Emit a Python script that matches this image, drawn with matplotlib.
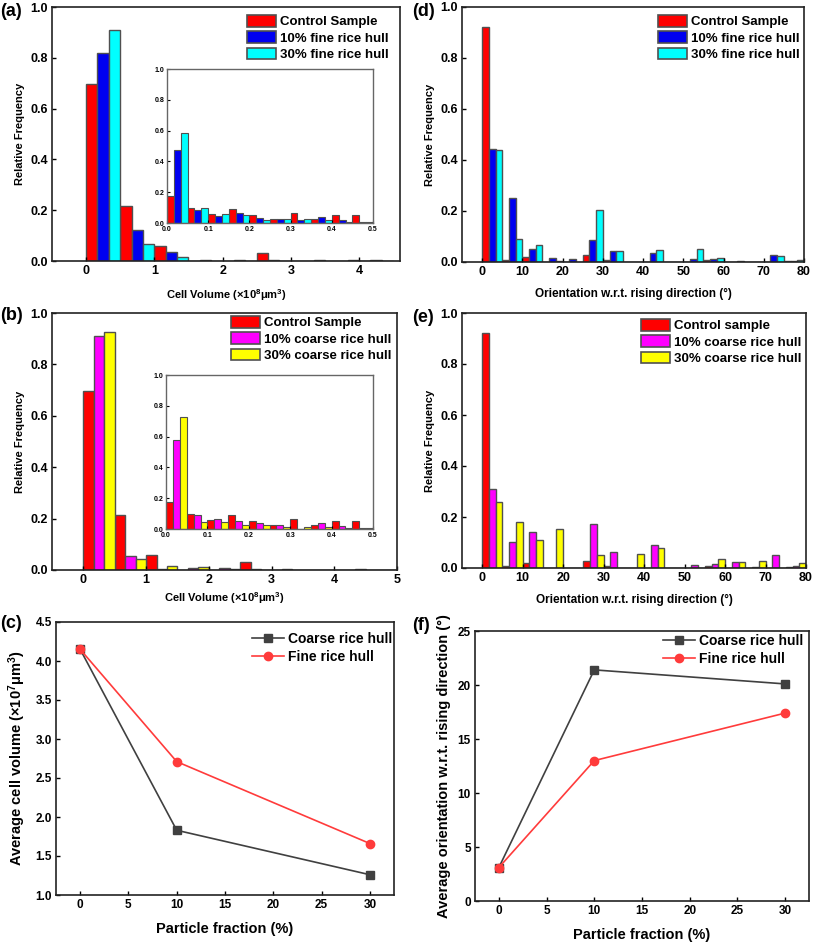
import matplotlib
matplotlib.use("Agg")
import matplotlib.pyplot as plt
from matplotlib.patches import Patch
import numpy as np

plt.rcParams['font.family'] = ['Liberation Sans', 'DejaVu Sans']
plt.rcParams['font.weight'] = 'bold'
plt.rcParams['axes.labelweight'] = 'bold'
plt.rcParams['mathtext.default'] = 'regular'

# ---------------- data ----------------
vol_bins = [0.0, 0.5, 1.0, 1.5, 2.0, 2.5, 3.0, 3.5, 4.0, 4.5]
ctrl_vol = [0.696, 0.215, 0.058, 0, 0, 0.030, 0, 0, 0, 0]
fine10_vol = [0.820, 0.123, 0.034, 0.003, 0.003, 0.003, 0, 0, 0.004, 0]
fine30_vol = [0.908, 0.066, 0.016, 0, 0, 0, 0.002, 0.002, 0, 0]
coarse10_vol = [0.911, 0.054, 0.005, 0.008, 0.008, 0.003, 0.003, 0, 0, 0]
coarse30_vol = [0.926, 0.041, 0.014, 0.010, 0.003, 0, 0, 0, 0.002, 0]

inset_bins = [0.0, 0.05, 0.10, 0.15, 0.20, 0.25, 0.30, 0.35, 0.40, 0.45]
ctrl_in = [0.176, 0.098, 0.059, 0.088, 0.050, 0.028, 0.068, 0.029, 0.050, 0.050]
fine10_in = [0.473, 0.087, 0.046, 0.063, 0.035, 0.028, 0.022, 0.039, 0.017, 0.006]
fine30_in = [0.586, 0.100, 0.061, 0.050, 0.017, 0.024, 0.024, 0.022, 0.006, 0.006]
coarse10_in = [0.576, 0.089, 0.067, 0.054, 0.039, 0.024, 0.0, 0.039, 0.020, 0.004]
coarse30_in = [0.730, 0.046, 0.048, 0.028, 0.024, 0.013, 0.013, 0.013, 0.008, 0.004]

ori_bins = [0, 5, 10, 15, 20, 25, 30, 35, 40, 45, 50, 55, 60, 65, 70, 75]
ctrl_ori = [0.922, 0.009, 0.019, 0, 0, 0.028, 0.008, 0, 0, 0, 0, 0.008, 0, 0, 0, 0.003]
fine10_ori = [0.444, 0.250, 0.052, 0.016, 0.012, 0.085, 0.045, 0, 0.035, 0, 0.010, 0.010, 0, 0, 0.028, 0.003]
fine30_ori = [0.438, 0.090, 0.066, 0.003, 0, 0.205, 0.042, 0, 0.046, 0, 0.052, 0.015, 0.005, 0, 0.025, 0.006]
coarse10_ori = [0.309, 0.102, 0.140, 0, 0, 0.172, 0.061, 0, 0.091, 0, 0.013, 0.016, 0.022, 0.003, 0.050, 0.008]
coarse30_ori = [0.258, 0.179, 0.108, 0.153, 0, 0.052, 0, 0.053, 0.080, 0, 0, 0.036, 0.022, 0.028, 0, 0.020]

fraction = [0, 10, 30]
coarse_vol_avg = [4.15, 1.83, 1.26]
fine_vol_avg = [4.15, 2.71, 1.66]
coarse_ori_avg = [3.1, 21.4, 20.1]
fine_ori_avg = [3.1, 13.0, 17.4]

fine_labels = ['Control Sample', '10% fine rice hull', '30% fine rice hull']
coarse_labels = ['Control Sample', '10% coarse rice hull', '30% coarse rice hull']
coarse_labels_e = ['Control sample', '10% coarse rice hull', '30% coarse rice hull']

RED, BLUE, CYAN, MAG, YEL = '#FF0000', '#0000F0', '#00FFFF', '#FF00FF', '#FFFF00'
EDGE = '#505050'

W, H = 813, 942
fig = plt.figure(figsize=(W / 100, H / 100), dpi=100)


def add_ax(l, r, t, b):
    return fig.add_axes([l / W, 1 - b / H, (r - l) / W, (b - t) / H])


def style(ax, lw=1.2, size=9):
    for s in ax.spines.values():
        s.set_linewidth(lw)
        s.set_color('#222222')
    ax.tick_params(direction='in', length=3, width=1, labelsize=size, pad=3)
    for lab in ax.get_xticklabels() + ax.get_yticklabels():
        lab.set_fontweight('bold')


def grouped(ax, bins, series, colors, lw=1.0):
    width = bins[1] - bins[0]
    w = width / 3
    for k, (vals, c) in enumerate(zip(series, colors)):
        ax.bar(np.array(bins) + k * w, vals, width=w, align='edge',
               color=c, edgecolor=EDGE, linewidth=lw)


def legend_patches(ax, labels, colors, anchor):
    handles = [Patch(facecolor=c, edgecolor=EDGE, linewidth=1.2) for c in colors]
    ax.legend(handles, labels, loc='upper left', bbox_to_anchor=(anchor[0] / W, 1 - anchor[1] / H),
              bbox_transform=fig.transFigure, frameon=False,
              handlelength=2.2, handleheight=1.0, handletextpad=0.3,
              labelspacing=0.22, borderpad=0, borderaxespad=0,
              prop={'weight': 'bold', 'size': 9.5})


def inset(l, r, t, b, series, colors):
    ax = add_ax(l, r, t, b)
    grouped(ax, inset_bins, series, colors, lw=0.8)
    ax.set_xlim(0, 0.5)
    ax.set_ylim(0, 1.0)
    ax.set_xticks([0, 0.1, 0.2, 0.3, 0.4, 0.5])
    ax.set_yticks([0, 0.2, 0.4, 0.6, 0.8, 1.0])
    ax.set_xticklabels(['0.0', '0.1', '0.2', '0.3', '0.4', '0.5'])
    ax.set_yticklabels(['0.0', '0.2', '0.4', '0.6', '0.8', '1.0'])
    for s in ax.spines.values():
        s.set_linewidth(1.0)
        s.set_color('#666666')
    ax.tick_params(direction='in', length=2, width=0.8, labelsize=5, pad=2)
    for lab in ax.get_xticklabels() + ax.get_yticklabels():
        lab.set_fontweight('bold')
    return ax


rf_ticks = [0.0, 0.2, 0.4, 0.6, 0.8, 1.0]
rf_labels = ['0.0', '0.2', '0.4', '0.6', '0.8', '1.0']

# ---------- (a) ----------
axa = add_ax(52, 400, 7, 261)
grouped(axa, vol_bins[:9], [ctrl_vol[:9], fine10_vol[:9], fine30_vol[:9]], [RED, BLUE, CYAN])
axa.set_xlim(-0.5, 4.6)
axa.set_ylim(0, 1.0)
axa.set_xticks([0, 1, 2, 3, 4])
axa.set_yticks(rf_ticks)
axa.set_yticklabels(rf_labels)
axa.set_ylabel('Relative Frequency', fontsize=8, labelpad=4)
axa.set_xlabel(r'Cell Volume ($\times$10$^{8}$$\mu$m$^{3}$)', fontsize=8, labelpad=7)
style(axa)
legend_patches(axa, fine_labels, [RED, BLUE, CYAN], (247, 15))
inset(167, 373, 69, 223, [ctrl_in, fine10_in, fine30_in], [RED, BLUE, CYAN])

# ---------- (b) ----------
axb = add_ax(52, 397, 313, 570)
grouped(axb, vol_bins, [ctrl_vol, coarse10_vol, coarse30_vol], [RED, MAG, YEL])
axb.set_xlim(-0.5, 5)
axb.set_ylim(0, 1.0)
axb.set_xticks([0, 1, 2, 3, 4, 5])
axb.set_yticks(rf_ticks)
axb.set_yticklabels(rf_labels)
axb.set_ylabel('Relative Frequency', fontsize=8, labelpad=4)
axb.set_xlabel(r'Cell Volume ($\times$10$^{8}$$\mu$m$^{3}$)', fontsize=8, labelpad=3)
style(axb)
legend_patches(axb, coarse_labels, [RED, MAG, YEL], (231, 316))
inset(166, 373, 375, 529, [ctrl_in, coarse10_in, coarse30_in], [RED, MAG, YEL])

# ---------- (d) ----------
axd = add_ax(462, 804, 7, 262)
grouped(axd, ori_bins, [ctrl_ori, fine10_ori, fine30_ori], [RED, BLUE, CYAN])
axd.set_xlim(-5, 80)
axd.set_ylim(0, 1.0)
axd.set_xticks(range(0, 81, 10))
axd.set_yticks(rf_ticks)
axd.set_yticklabels(rf_labels)
axd.set_ylabel('Relative Frequency', fontsize=8, labelpad=4)
axd.set_xlabel('Orientation w.r.t. rising direction (°)', fontsize=8.5, labelpad=7)
style(axd)
legend_patches(axd, fine_labels, [RED, BLUE, CYAN], (658, 15))

# ---------- (e) ----------
axe = add_ax(462, 806, 313, 568)
grouped(axe, ori_bins, [ctrl_ori, coarse10_ori, coarse30_ori], [RED, MAG, YEL])
axe.set_xlim(-5, 80)
axe.set_ylim(0, 1.0)
axe.set_xticks(range(0, 81, 10))
axe.set_yticks(rf_ticks)
axe.set_yticklabels(rf_labels)
axe.set_ylabel('Relative Frequency', fontsize=8, labelpad=4)
axe.set_xlabel('Orientation w.r.t. rising direction (°)', fontsize=8.5, labelpad=7)
style(axe)
legend_patches(axe, coarse_labels_e, [RED, MAG, YEL], (641, 319))

# ---------- (c) ----------
GRAY = '#404040'
LRED = '#FF3B3B'
axc = add_ax(56, 394, 622, 895)
axc.plot(fraction, coarse_vol_avg, color=GRAY, marker='s', markersize=5.5, linewidth=1.2,
         label='Coarse rice hull')
axc.plot(fraction, fine_vol_avg, color=LRED, marker='o', markersize=6, linewidth=1.2,
         label='Fine rice hull')
axc.set_xlim(-2.5, 32.5)
axc.set_ylim(1.0, 4.5)
axc.set_xticks([0, 5, 10, 15, 20, 25, 30])
axc.set_yticks([1.0, 1.5, 2.0, 2.5, 3.0, 3.5, 4.0, 4.5])
axc.set_yticklabels(['1.0', '1.5', '2.0', '2.5', '3.0', '3.5', '4.0', '4.5'])
axc.set_xlabel('Particle fraction (%)', fontsize=10.5, labelpad=8)
axc.set_ylabel(r'Average cell volume ($\times$10$^{7}$$\mu$m$^{3}$)', fontsize=10.5, labelpad=5)
style(axc, lw=1.2, size=8.5)
axc.legend(loc='upper left', bbox_to_anchor=(252 / W, 1 - 632 / H), bbox_transform=fig.transFigure,
           frameon=False, handlelength=2.3, handletextpad=0.3, labelspacing=0.3,
           borderpad=0, borderaxespad=0, prop={'weight': 'bold', 'size': 10})

# ---------- (f) ----------
axf = add_ax(475, 809, 631, 901)
axf.plot(fraction, coarse_ori_avg, color=GRAY, marker='s', markersize=5.5, linewidth=1.2,
         label='Coarse rice hull')
axf.plot(fraction, fine_ori_avg, color=LRED, marker='o', markersize=6, linewidth=1.2,
         label='Fine rice hull')
axf.set_xlim(-2.5, 32.5)
axf.set_ylim(0, 25)
axf.set_xticks([0, 5, 10, 15, 20, 25, 30])
axf.set_yticks([0, 5, 10, 15, 20, 25])
axf.set_xlabel('Particle fraction (%)', fontsize=10.5, labelpad=8)
axf.set_ylabel('Average orientation w.r.t. rising direction (°)', fontsize=10.5, labelpad=5)
style(axf, lw=1.2, size=8.5)
axf.legend(loc='upper left', bbox_to_anchor=(663 / W, 1 - 634 / H), bbox_transform=fig.transFigure,
           frameon=False, handlelength=2.3, handletextpad=0.3, labelspacing=0.3,
           borderpad=0, borderaxespad=0, prop={'weight': 'bold', 'size': 10})

# panel letters
for txt, x, y in [('(a)', 0, 12), ('(d)', 412, 12), ('(b)', 0, 315), ('(e)', 412, 317),
                  ('(c)', 0, 623), ('(f)', 412, 625)]:
    fig.text(x / W, 1 - y / H, txt, fontsize=13, fontweight='bold', va='center', ha='left')

fig.savefig('out.png', dpi=100)
